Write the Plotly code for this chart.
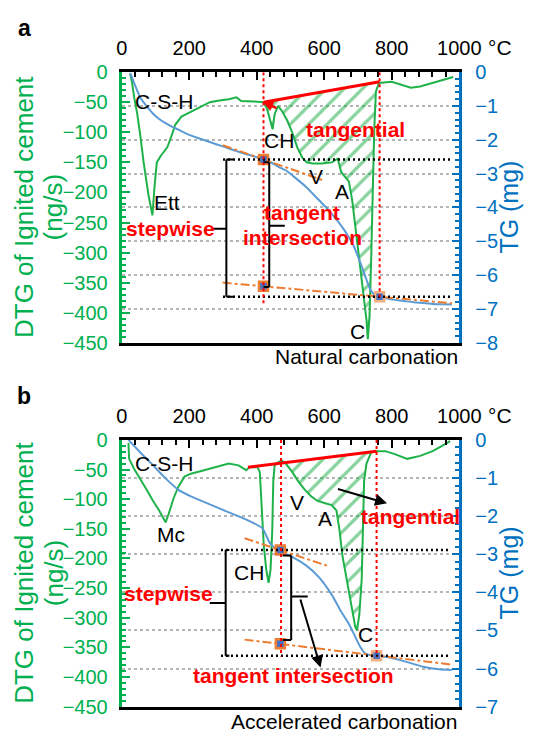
import plotly.graph_objects as go

W, H = 542, 741
FONT = "Liberation Sans, Arial, sans-serif"
TFONT = "Liberation Sans Narrow, Liberation Sans, Arial, sans-serif"
GREEN = "#00b050"
GREEN_LINE = "#1fb24a"
BLUE_LINE = "#5b9bd5"
BLUE_AX = "#0070c0"
ORANGE = "#ed7d31"
RED = "#ff0000"

# ---------------- Panel a : natural carbonation ----------------
a_dtg_T = [25, 30, 37, 46, 55, 65, 79, 91, 97, 104, 116, 135, 149, 158, 177, 205, 233, 261, 289, 317, 340, 354, 392,
           419, 430, 440, 447, 453, 463, 475, 490, 505, 520, 535, 548, 565, 594, 622, 640, 650, 664, 673, 683, 692, 704,
           715, 725, 729, 734, 739, 743, 748, 753, 762, 800, 827, 856, 884, 921, 949, 982]
a_dtg = [-3, -15, -42, -69, -105, -150, -203, -238, -192, -150, -139, -125, -104, -88, -74, -66, -58, -50, -47, -45, -42,
         -48, -49, -50, -60, -80, -95, -70, -56, -65, -80, -100, -125, -142, -150, -152, -152, -150, -144, -166, -176,
         -182, -214, -257, -310, -364, -412, -444, -407, -310, -203, -96, -32, -18, -16, -21, -26, -24, -18, -13, -8]
a_tg_T = [25, 40, 55, 75, 93, 110, 130, 150, 168, 195, 224, 250, 280, 310, 336, 365, 392, 420, 448, 472, 486, 509, 547,
          584, 622, 659, 687, 706, 720, 734, 748, 764, 790, 809, 840, 865, 900, 921, 950, 978]
a_tg = [-0.02, -0.40, -0.75, -1.02, -1.23, -1.38, -1.51, -1.62, -1.70, -1.83, -1.94, -2.03, -2.13, -2.23, -2.32, -2.41,
        -2.49, -2.58, -2.70, -2.84, -2.90, -3.08, -3.40, -3.78, -4.18, -4.66, -5.13, -5.61, -5.99, -6.37, -6.58, -6.64,
        -6.70, -6.73, -6.77, -6.80, -6.83, -6.85, -6.86, -6.87]
a_tan_T = [420, 764]            # tangential baseline (DTG)
a_tan_dtg = [-50, -16]
a_up_T = [300, 600]             # tangent lines (TG)
a_up_tg = [-2.16, -3.21]
a_lo_T = [299, 978]
a_lo_tg = [-6.22, -6.83]
a_sq_T = [420, 420, 764]
a_sq_tg = [-2.58, -6.33, -6.64]
a_step = [-2.58, -6.64]         # stepwise levels (TG)
a_step_T = [300, 978]
a_vline_T = [420, 764]
a_vline_end = [-6.90, -6.66]

# ---------------- Panel b : accelerated carbonation ----------------
b_dtg_T = [20, 22, 37, 55, 74, 93, 111, 130, 139, 154, 168, 186, 205, 233, 261, 289, 317, 346, 369, 378, 402, 409, 416,
           421, 428, 435, 441, 446, 449, 453, 463, 474, 486, 505, 523, 542, 561, 580, 603, 622, 636, 645, 654, 669, 680,
           692, 697, 704, 711, 715, 718, 725, 739, 755, 781, 809, 846, 884, 921, 949, 973]
b_dtg = [-5, -32, -49, -65, -84, -103, -119, -139, -125, -98, -79, -62, -57, -53, -49, -44, -40, -43, -51, -46, -46, -54,
         -125, -179, -218, -241, -218, -152, -70, -43, -38, -35, -40, -54, -70, -84, -95, -103, -107, -110, -119, -152,
         -196, -245, -283, -316, -321, -294, -234, -152, -70, -40, -21, -19, -19, -24, -32, -27, -19, -10, -2]
b_tg_T = [20, 55, 93, 130, 168, 205, 261, 317, 374, 416, 425, 439, 453, 465, 472, 509, 547, 584, 622, 649, 673, 692, 706,
          720, 743, 755, 800, 846, 893, 940, 978]
b_tg = [0.0, -0.33, -0.67, -1.01, -1.31, -1.48, -1.69, -1.90, -2.11, -2.31, -2.45, -2.71, -2.83, -2.89, -2.94, -3.09,
        -3.30, -3.60, -4.06, -4.49, -4.83, -5.17, -5.42, -5.59, -5.66, -5.67, -5.72, -5.83, -5.95, -6.02, -6.04]
b_tan_T = [374, 755]
b_tan_dtg = [-46, -19]
b_up_T = [364, 608]
b_up_tg = [-2.58, -3.30]
b_lo_T = [364, 982]
b_lo_tg = [-5.24, -5.90]
b_sq_T = [470, 470, 755]
b_sq_tg = [-2.89, -5.35, -5.66]
b_step = [-2.89, -5.66]
b_step_T = [294, 968]
b_vline_T = [472, 755]
b_vline_end = [-5.68, -5.68]

x_ticks = [0, 200, 400, 600, 800, 1000]

fig = go.Figure()


def interp(x, xs, ys):
    return ys[0] + (ys[1] - ys[0]) * (x - xs[0]) / (xs[1] - xs[0])


def hatch_poly(T, D, tT, tD, lo, hi):
    px = [t for t in T if lo <= t <= hi]
    py = [d for t, d in zip(T, D) if lo <= t <= hi]
    px = [lo] + px + [hi, lo]
    py = [interp(lo, tT, tD)] + py + [interp(hi, tT, tD), interp(lo, tT, tD)]
    return px, py


def add_panel(xa, ya, ya2, dT, d, gT, g, tT, tD, uT, uG, lT, lG, sT, sG, hlo, hhi):
    hx, hy = hatch_poly(dT, d, tT, tD, hlo, hhi)
    fig.add_trace(go.Scatter(x=hx, y=hy, xaxis=xa, yaxis=ya, mode="lines", line=dict(width=0),
                             fill="toself", fillcolor="rgba(0,0,0,0)",
                             fillpattern=dict(shape="/", fgcolor="#0fa83c", bgcolor="rgba(0,0,0,0)",
                                              size=13, solidity=0.25),
                             hoverinfo="skip", showlegend=False))
    fig.add_trace(go.Scatter(x=dT, y=d, xaxis=xa, yaxis=ya, mode="lines",
                             line=dict(color=GREEN_LINE, width=2), showlegend=False))
    fig.add_trace(go.Scatter(x=tT, y=tD, xaxis=xa, yaxis=ya, mode="lines",
                             line=dict(color=RED, width=3), showlegend=False))
    fig.add_trace(go.Scatter(x=gT, y=g, xaxis=xa, yaxis=ya2, mode="lines",
                             line=dict(color=BLUE_LINE, width=2, shape="spline", smoothing=0.6), showlegend=False))
    for xs, ys in ((uT, uG), (lT, lG)):
        fig.add_trace(go.Scatter(x=xs, y=ys, xaxis=xa, yaxis=ya2, mode="lines",
                                 line=dict(color=ORANGE, width=2, dash="dashdot"), showlegend=False))
    fig.add_trace(go.Scatter(x=sT, y=sG, xaxis=xa, yaxis=ya2, mode="markers",
                             marker=dict(symbol="square", size=9, color="#4472c4",
                                         line=dict(color=[ORANGE, ORANGE, "#f4b183"], width=2.5)),
                             showlegend=False))


add_panel("x", "y", "y2", a_dtg_T, a_dtg, a_tg_T, a_tg, a_tan_T, a_tan_dtg, a_up_T, a_up_tg, a_lo_T, a_lo_tg,
          a_sq_T, a_sq_tg, 420, 764)
add_panel("x2", "y3", "y4", b_dtg_T, b_dtg, b_tg_T, b_tg, b_tan_T, b_tan_dtg, b_up_T, b_up_tg, b_lo_T, b_lo_tg,
          b_sq_T, b_sq_tg, 472, 755)

shapes = []


def line(xr, yr, x0, y0, x1, y1, color="black", width=2, dash="solid"):
    shapes.append(dict(type="line", xref=xr, yref=yr, x0=x0, y0=y0, x1=x1, y1=y1,
                       line=dict(color=color, width=width, dash=dash)))


for xr, yr, lev, sT, vT, vE in (("x", "y2", a_step, a_step_T, a_vline_T, a_vline_end),
                                ("x2", "y4", b_step, b_step_T, b_vline_T, b_vline_end)):
    for lv in lev:
        line(xr, yr, sT[0], lv, sT[1], lv, width=2.5, dash="2px,3px")
    for t, e in zip(vT, vE):
        line(xr, yr, t, 0, t, e, color=RED, width=2, dash="dot")

# brackets (T, TG units)
br_a = [(310, 331, -2.58, -6.64, 270, -4.63), (437, 420, -2.66, -6.35, 483, -4.54)]
br_b = [(308, 319, -2.89, -5.66, 261, -4.28), (502, 477, -3.03, -5.25, 551, -4.11)]
for xr, yr, brs in (("x", "y2", br_a), ("x2", "y4", br_b)):
    for xv, xs, y0, y1, xm, ym in brs:
        line(xr, yr, xv, y0, xv, y1)
        line(xr, yr, xv, y0, xs, y0)
        line(xr, yr, xv, y1, xs, y1)
        line(xr, yr, xv, ym, xm, ym)

ann = []


def text(xr, yr, x, y, s, size=21, color="black", bold=False, **kw):
    ann.append(dict(xref=xr, yref=yr, x=x, y=y, text=("<b>%s</b>" % s) if bold else s, showarrow=False,
                    font=dict(family=FONT, size=size, color=color), xanchor="center", yanchor="middle", **kw))


# panel a labels (T, DTG)
for s, x, y in (("C-S-H", 124, -48), ("Ett", 135, -217), ("CH", 466, -114), ("V", 576, -174),
                ("A", 652, -198), ("C", 697, -431)):
    text("x", "y", x, y, s)
for s, x, y in (("tangential", 694, -96), ("stepwise", 146, -260), ("tangent", 534, -234),
                ("intersection", 537, -275)):
    text("x", "y", x, y, s, color=RED, bold=True)
# panel b labels
for s, x, y in (("C-S-H", 124, -39), ("Mc", 146, -159), ("CH", 378, -223), ("V", 520, -106),
                ("A", 603, -133), ("C", 722, -329)):
    text("x2", "y3", x, y, s)
for s, x, y in (("tangential", 856, -130), ("stepwise", 138, -259), ("tangent intersection", 508, -397)):
    text("x2", "y3", x, y, s, color=RED, bold=True)

# arrows
ann.append(dict(xref="x", yref="y", axref="x", ayref="y", x=419, y=-50, ax=463, ay=-61, showarrow=True,
                arrowhead=2, arrowsize=0.8, arrowwidth=2.5, arrowcolor=RED, text=""))
ann.append(dict(xref="x2", yref="y3", axref="x2", ayref="y3", x=786, y=-107, ax=636, ay=-82, showarrow=True,
                arrowhead=2, arrowsize=1.2, arrowwidth=2, arrowcolor="black", text=""))
ann.append(dict(xref="x2", yref="y4", axref="x2", ayref="y4", x=589, y=-5.97, ax=528, ay=-4.15, showarrow=True,
                arrowhead=2, arrowsize=1.2, arrowwidth=2, arrowcolor="black", text=""))


# paper-positioned texts
def ptext(x, y, s, size, color="black", angle=0, xanchor="center", bold=False, family=FONT):
    ann.append(dict(xref="paper", yref="paper", x=x / W, y=1 - y / H, text=("<b>%s</b>" % s) if bold else s,
                    showarrow=False, textangle=angle, xanchor=xanchor, yanchor="middle",
                    font=dict(family=family, size=size, color=color)))


ptext(19, 18, "a", 23, bold=True)
ptext(19, 397, "b", 23, bold=True)
for yc, yt in ((202, 38), (579, 417)):
    ptext(19, yc, "DTG of Ignited cement", 26, GREEN, -90)
    ptext(50, yc, "(ng/s)", 26, GREEN, -90)
    ptext(530, yc, "TG (mg)", 25, BLUE_AX, -90)
    ptext(506, yt, "\u00b0C", 21, xanchor="left")
ptext(479, 356, "Natural carbonation", 21, xanchor="right")
ptext(478, 732, "Accelerated carbonation", 21, xanchor="right")

xdom = [122 / W, 478 / W]
dom_a = [1 - 342 / H, 1 - 63 / H]
dom_b = [1 - 717 / H, 1 - 442 / H]


def xax(anchor):
    return dict(domain=xdom, anchor=anchor, side="top", range=[0, 1000], tickvals=x_ticks,
                ticks="inside", ticklen=8, tickwidth=1.5, tickcolor="black",
                minor=dict(dtick=40, tick0=0, ticks="inside", ticklen=5, tickwidth=1.5, tickcolor="black"),
                showline=True, linecolor="black", linewidth=2.5, mirror=True, showgrid=False, zeroline=False,
                tickfont=dict(family=TFONT, size=20, color="black"), ticklabelstandoff=6)


def yleft(dom, anchor):
    return dict(domain=dom, anchor=anchor, range=[-450, 0], dtick=50, ticks="inside", ticklen=8, tickwidth=2,
                tickcolor=GREEN, minor=dict(dtick=10, ticks="inside", ticklen=4, tickwidth=2, tickcolor=GREEN),
                showline=True, linecolor=GREEN, linewidth=3, showgrid=False, zeroline=False,
                tickfont=dict(family=TFONT, size=20, color=GREEN), ticklabelstandoff=7)


def yright(overlay, anchor, lo):
    return dict(overlaying=overlay, anchor=anchor, side="right", range=[lo, 0], dtick=1, ticks="inside",
                ticklen=7, tickwidth=2, tickcolor=BLUE_AX,
                minor=dict(dtick=0.2, ticks="inside", ticklen=4, tickwidth=2, tickcolor=BLUE_AX),
                showline=True, linecolor=BLUE_AX, linewidth=3, showgrid=True, gridcolor="#b5b5b5",
                gridwidth=1.5, griddash="dot", zeroline=False,
                tickfont=dict(family=TFONT, size=20, color=BLUE_AX), ticklabelstandoff=9)


fig.update_layout(
    width=W, height=H, margin=dict(l=0, r=0, t=0, b=0), paper_bgcolor="white", plot_bgcolor="rgba(0,0,0,0)",
    showlegend=False, font=dict(family=FONT),
    xaxis=xax("y"), yaxis=yleft(dom_a, "x"), yaxis2=yright("y", "x", -8),
    xaxis2=xax("y3"), yaxis3=yleft(dom_b, "x2"), yaxis4=yright("y3", "x2", -7),
    shapes=shapes, annotations=ann,
)

fig.write_html("out.html")
